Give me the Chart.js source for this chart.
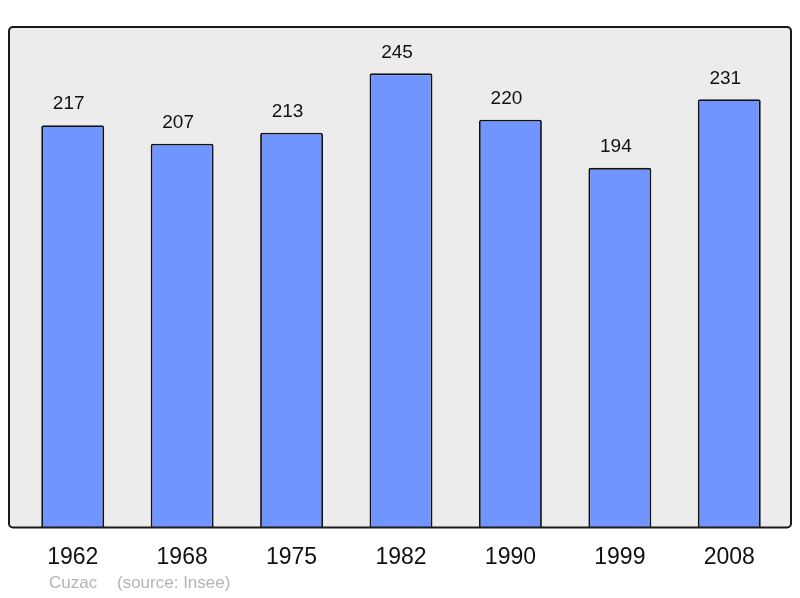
<!DOCTYPE html>
<html><head><meta charset="utf-8">
<script src="https://cdn.jsdelivr.net/npm/chart.js@4/dist/chart.umd.min.js"></script>
<style>html,body{margin:0;padding:0;background:#fff;}#wrap{width:800px;height:598px;}</style>
</head><body><div id="wrap"><canvas id="c" width="800" height="598"></canvas></div>
<script>
const years = ["1962","1968","1975","1982","1990","1999","2008"];
const population = [217,207,213,245,220,194,231];
const footerName = "Cuzac";
const footerSource = "(source: Insee)";

const FONT = "'Liberation Sans', Arial, sans-serif";

const bgPlugin = {
  id: 'bg',
  beforeDraw(chart) {
    const {ctx, chartArea: a} = chart;
    const l = a.left - 9, r = a.right + 7, t = a.top, b = a.bottom;
    ctx.save();
    ctx.beginPath();
    ctx.roundRect(l, t, r - l, b - t, 4);
    ctx.fillStyle = '#ececec';
    ctx.fill();
    ctx.restore();
  },
  afterDatasetsDraw(chart) {
    const {ctx, chartArea: a} = chart;
    const l = a.left - 9, r = a.right + 7, t = a.top, b = a.bottom;
    ctx.save();
    ctx.beginPath();
    ctx.roundRect(l, t, r - l, b - t, 4);
    ctx.lineWidth = 2;
    ctx.strokeStyle = '#1a1a1a';
    ctx.stroke();
    // value labels
    const meta = chart.getDatasetMeta(0);
    ctx.fillStyle = '#111';
    ctx.font = '19px ' + FONT;
    ctx.textAlign = 'center';
    ctx.textBaseline = 'middle';
    meta.data.forEach((el, i) => {
      ctx.fillText(String(population[i]), el.x - 4, el.y - 21);
    });
    // footer
    ctx.fillStyle = '#b4b4b4';
    ctx.font = '17px ' + FONT;
    ctx.textAlign = 'left';
    ctx.fillText(footerName, 49, 583);
    ctx.fillText(footerSource, 117, 583);
    ctx.restore();
  }
};

new Chart(document.getElementById('c'), {
  type: 'bar',
  data: {
    labels: years,
    datasets: [{
      data: population,
      backgroundColor: '#7095ff',
      borderColor: '#111',
      borderWidth: 1.8,
      borderRadius: 2,
      borderSkipped: 'bottom',
      barPercentage: 0.575,
      categoryPercentage: 1
    }]
  },
  options: {
    responsive: false,
    animation: false,
    devicePixelRatio: 1,
    layout: { padding: { left: 18, right: 16, top: 27, bottom: 11 } },
    plugins: { legend: { display: false }, tooltip: { enabled: false } },
    scales: {
      y: { display: false, min: 0, max: 270 },
      x: {
        grid: { display: false, drawTicks: false },
        border: { display: false },
        ticks: { color: '#111', font: { size: 23, family: FONT }, padding: 16 }
      }
    }
  },
  plugins: [bgPlugin]
});
</script></body></html>
